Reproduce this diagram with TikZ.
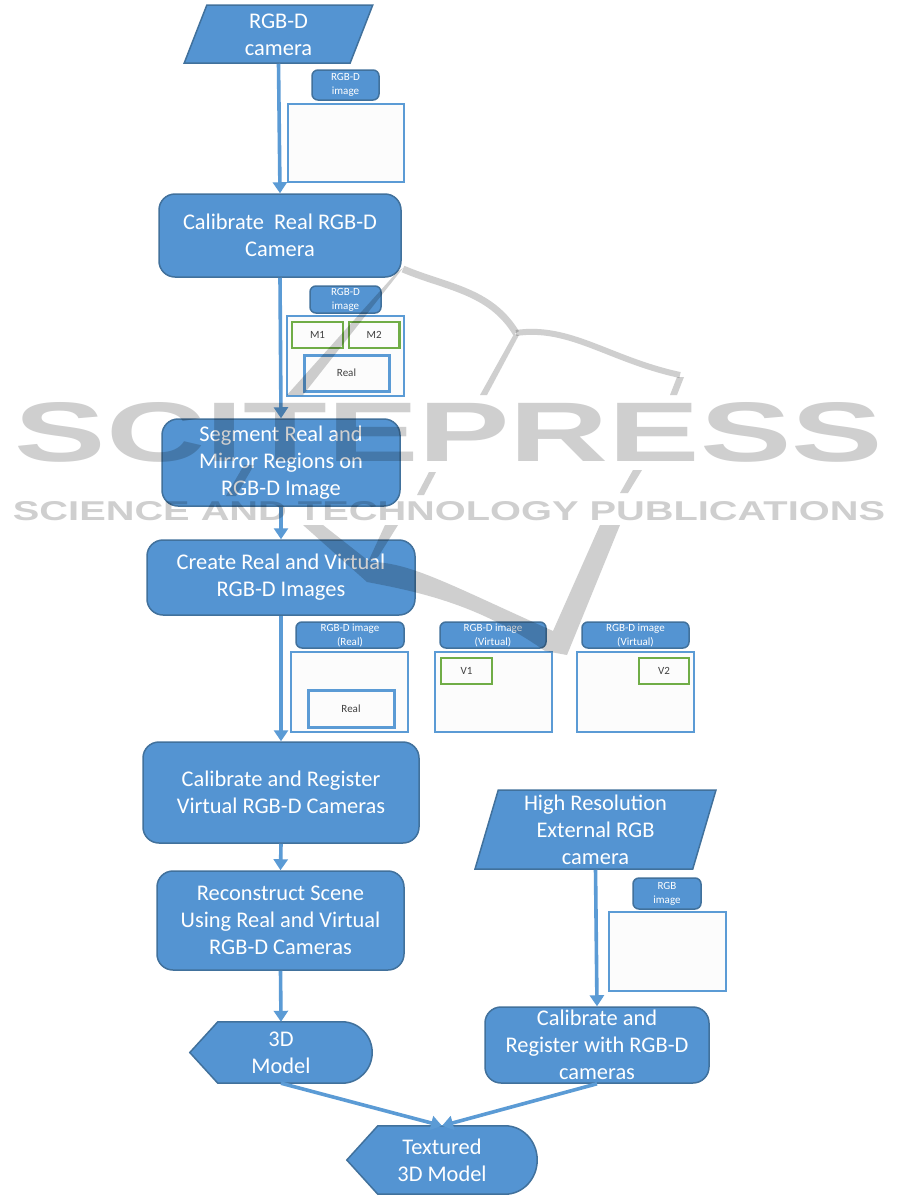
\documentclass[tikz,border=0pt]{standalone}
\usepackage{fontspec}
\usepackage{graphicx}
\setmainfont{Carlito}
\newfontfamily\wmfont{Liberation Sans}
\usetikzlibrary{shapes.geometric,arrows.meta,backgrounds}
\definecolor{bfill}{HTML}{5494D2}
\definecolor{bedge}{HTML}{41719C}
\definecolor{conn}{HTML}{5B9BD5}
\definecolor{grn}{HTML}{70AD47}
\definecolor{wm}{HTML}{CFCFCF}
\definecolor{pane}{HTML}{FCFCFC}
\definecolor{lab}{HTML}{404040}
\tikzset{
  x=1pt,y=-1pt,
  sz/.style 2 args={minimum width=#1pt,minimum height=#2pt},
  big/.style={text=white,align=center,font=\fontsize{22.4}{27}\selectfont,inner sep=0pt},
  procbox/.style={big,draw=bedge,fill=bfill,line width=1.5pt,rounded corners=16pt},
  ioshape/.style={big,draw=bedge,fill=bfill,line width=1.5pt,trapezium,trapezium stretches=true,trapezium left angle=76.5,trapezium right angle=103.5},
  termlabel/.style={big},
  termshape/.style={draw=bedge,fill=bfill,line width=1.5pt},
  tagbox/.style={draw=bedge,fill=bfill,line width=1.5pt,rounded corners=6pt,text=white,align=center,inner sep=0pt,font=\fontsize{11}{14}\selectfont},
  pane/.style={draw=conn,fill=pane,line width=2pt,inner sep=0pt},
  bluezone/.style={draw=conn,fill=pane,line width=3pt,inner sep=0pt,text=lab,font=\fontsize{11}{12}\selectfont},
  greenzone/.style={draw=grn,fill=pane,line width=2.6pt,inner sep=0pt,text=lab,font=\fontsize{11}{12}\selectfont},
  flow/.style={draw=conn,line width=3.6pt,-{Triangle[width=14pt,length=11pt]}},
}
\begin{document}
\begin{tikzpicture}
\useasboundingbox (0,0) rectangle (901,1202);

% main column
\node[ioshape,sz={189}{58}] (cam) at (278.5,34) {\rule{0pt}{17pt}RGB-D\\camera};
\node[procbox,sz={242}{83}] (calib) at (280,235.5) {Calibrate\ \ Real RGB-D\\Camera};
\node[procbox,sz={238}{87}] (seg) at (281,462.5) {Segment Real and\\Mirror Regions on\\RGB-D Image};
\node[procbox,sz={268}{75}] (create) at (281,577.5) {Create Real and Virtual\\RGB-D Images};
\node[procbox,sz={276}{101}] (reg) at (281,792.5) {Calibrate and Register\\Virtual RGB-D Cameras};
\node[procbox,sz={247}{99}] (recon) at (280.5,920.5) {Reconstruct Scene\\Using Real and Virtual\\RGB-D Cameras};

% terminals
\node[termlabel,sz={182}{61}] (model) at (281,1052.5) {3D\\Model};
\node[ioshape,sz={241}{79}] (ext) at (595.5,829.5) {\rule{0pt}{17pt}High Resolution\\External RGB\\camera};
\node[procbox,sz={224}{76}] (extreg) at (597,1045) {Calibrate and\\Register with RGB-D\\cameras};
\node[termlabel,sz={190}{68}] (tex) at (442,1160) {Textured\\3D Model};

\begin{pgfonlayer}{background}
\fill[white] (0,0) rectangle (901,1202);
\draw[termshape] (model.west) -- ([xshift=28pt]model.north west) -- ([xshift=-30pt]model.north east)
  .. controls ([xshift=-13.4pt]model.north east) and ([yshift=16.8pt]model.east) .. (model.east)
  .. controls ([yshift=-16.8pt]model.east) and ([xshift=-13.4pt]model.south east) .. ([xshift=-30pt]model.south east)
  -- ([xshift=28pt]model.south west) -- cycle;
\draw[termshape] (tex.west) -- ([xshift=31pt]tex.north west) -- ([xshift=-32pt]tex.north east)
  .. controls ([xshift=-14.3pt]tex.north east) and ([yshift=18.8pt]tex.east) .. (tex.east)
  .. controls ([yshift=-18.8pt]tex.east) and ([xshift=-14.3pt]tex.south east) .. ([xshift=-32pt]tex.south east)
  -- ([xshift=31pt]tex.south west) -- cycle;
\end{pgfonlayer}

% image panels
\node[tagbox,sz={67}{30}] (t1) at (345.5,85) {RGB-D\\image};
\node[pane,sz={116}{78}] (p1) at (346,143) {};
\node[tagbox,sz={71}{27}] (t2) at (345.5,299.5) {RGB-D\\image};
\node[pane,sz={117}{80}] (p2) at (345.5,356) {};
\node[greenzone,sz={51}{26}] (m1) at (317.5,335) {M1};
\node[greenzone,sz={50.5}{26}] (m2) at (374.2,335) {M2};
\node[bluezone,sz={85}{36}] (r2) at (346.5,373) {Real};

\node[tagbox,sz={108}{26}] (t3) at (350,635) {RGB-D image\\(Real)};
\node[pane,sz={117}{80}] (p3) at (349.5,692) {};
\node[bluezone,sz={86}{37}] (r3) at (351,708.5) {Real};
\node[tagbox,sz={106}{26}] (t4) at (493,635) {RGB-D image\\(Virtual)};
\node[pane,sz={117}{80}] (p4) at (493.5,692) {};
\node[greenzone,sz={51}{26}] (v1) at (466.5,671) {V1};
\node[tagbox,sz={107}{26}] (t5) at (635.5,635) {RGB-D image\\(Virtual)};
\node[pane,sz={117}{80}] (p5) at (635.5,692) {};
\node[greenzone,sz={50}{26}] (v2) at (664,671) {V2};

\node[tagbox,sz={68}{31}] (t6) at (667,893.5) {RGB\\image};
\node[pane,sz={117}{79}] (p6) at (667.5,951.5) {};

% connectors
\draw[flow] (cam.south) -- (calib.north);
\draw[flow] (calib.south) -- (seg.north);
\draw[flow] (seg.south) -- (create.north);
\draw[flow] (create.south) -- (reg.north);
\draw[flow] (reg.south) -- (recon.north);
\draw[flow] (recon.south) -- (model.north);
\draw[flow] (ext.south) -- (extreg.north);
\draw[flow] (model.south) -- (tex.north);
\draw[flow] (extreg.south) -- (tex.north);

% watermark
\begin{scope}[blend mode=multiply]
  \node[inner sep=0pt,text=wm] (wmA) at (449,432.5) {\resizebox{868pt}{59pt}{\wmfont\bfseries SCITEPRESS}};
  \node[inner sep=0pt,text=wm] (wmB) at (449,511) {\resizebox{872pt}{19pt}{\wmfont\bfseries SCIENCE AND TECHNOLOGY PUBLICATIONS}};
  \fill[wm] (397,272) -- (403,268) -- (303,395) -- (287,395) -- cycle;
  \fill[wm] (244,465) -- (254,465) -- (236,496) -- (226,496) -- cycle;
  \draw[wm,line width=7pt] (403,269) .. controls (445,287) and (490,290) .. (516,333);
  \draw[wm,line width=6pt] (516,333) .. controls (570,325) and (610,360) .. (680,375);
  \fill[wm] (519,335) -- (487,395) -- (480,395) -- (514,334) -- cycle;
  \fill[wm] (677,377) -- (684,377) -- (677,395) -- (670,395) -- cycle;
  \fill[wm] (633,470) -- (642,470) -- (628,493) -- (620,493) -- cycle;
  \fill[wm] (429,472) -- (436,472) -- (424,495) -- (417,495) -- cycle;
  \fill[wm] (303,525) -- (323,525) -- (370,562) .. controls (410,562) and (450,585) .. (553,631)
     -- (600,525) -- (620,525) -- (567,655) -- (545,651) .. controls (480,605) and (420,592) .. (367,582) -- cycle;
  \fill[wm] (385,525) -- (398,525) -- (378,557) -- (368,562) -- cycle;
\end{scope}
\end{tikzpicture}
\end{document}
